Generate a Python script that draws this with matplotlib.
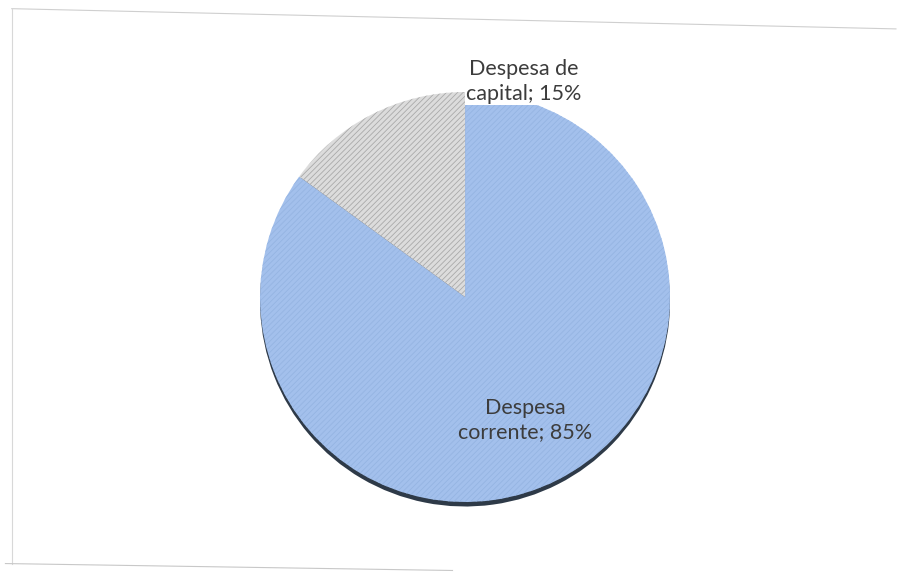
import matplotlib
matplotlib.use('Agg')
import matplotlib.pyplot as plt
from matplotlib.lines import Line2D

# data
categories = ['Despesa\ncorrente', 'Despesa de\ncapital']
shares = [85, 15]
colours = ['#a3c0ec', '#dcdcdc']

plt.rcParams['font.family'] = ['Lato', 'DejaVu Sans']
plt.rcParams['hatch.linewidth'] = 0.6

fig = plt.figure(figsize=(9.05, 5.78), dpi=100)
fig.patch.set_facecolor('white')

# faint frame of the scanned chart area (slightly skewed)
fig.add_artist(Line2D([0.013, 0.99], [0.985, 0.950], color='#cfcfcf', lw=0.8))
fig.add_artist(Line2D([0.013, 0.013], [0.985, 0.025], color='#d8d8d8', lw=0.8))
fig.add_artist(Line2D([0.006, 0.5], [0.025, 0.013], color='#c8c8c8', lw=0.8))

ax = fig.add_axes([0.2818, 0.1315, 0.4641, 0.7093])

# shadow under the pie
ax.pie(shares, colors=['#2e3a48', '#2e3a48'], startangle=90, counterclock=False,
       radius=1.0, center=(0.0, -0.022), wedgeprops=dict(linewidth=0))

wedges, _ = ax.pie(shares, colors=colours, startangle=90, counterclock=False,
                   radius=1.0, wedgeprops=dict(linewidth=1.2, edgecolor='#f4f6fa'))
wedges[0].set_hatch('//////')
wedges[0].set_edgecolor('#95b4e2')
wedges[0].set_linewidth(0)
wedges[1].set_hatch('//////')
wedges[1].set_edgecolor('#a9a9a9')
wedges[1].set_linewidth(0)

label_pos = [(0.295, -0.60), (0.286, 1.05)]
label_box = [None, dict(facecolor='white', edgecolor='none', pad=1)]
for cat, val, (x, y), box in zip(categories, shares, label_pos, label_box):
    ax.text(x, y, f'{cat}; {val}%', ha='center', va='center', fontsize=15.5,
            color='#3c3c3c', linespacing=1.3, bbox=box, zorder=5)

ax.set_xlim(-1, 1)
ax.set_ylim(-1, 1)
ax.axis('off')

plt.savefig('out.png', dpi=100, facecolor='white')
